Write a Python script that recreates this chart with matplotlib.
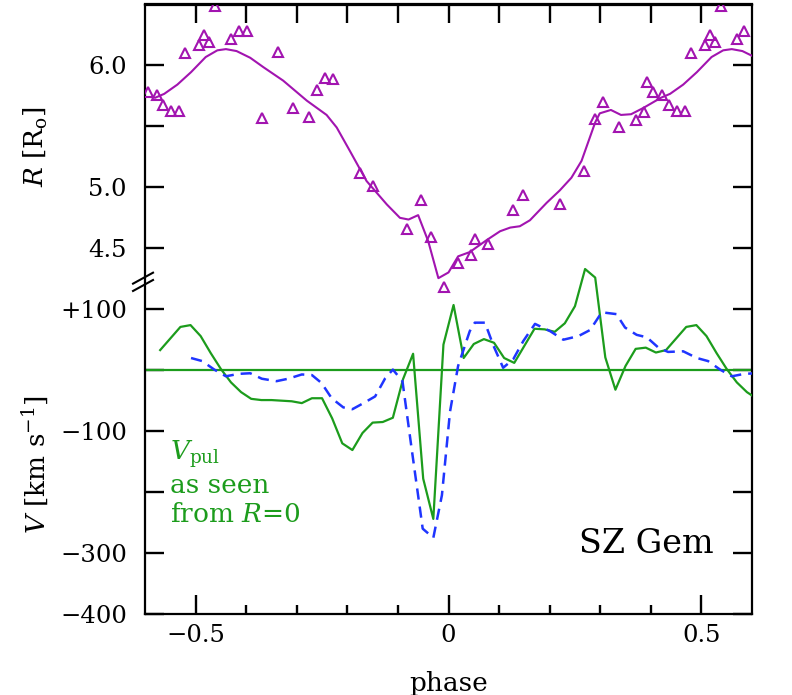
import matplotlib
matplotlib.use("Agg")
import matplotlib.pyplot as plt
import numpy as np

plt.rcParams.update({
    "font.family": "DejaVu Serif", "mathtext.fontset": "dejavuserif",
    "axes.linewidth": 1.6,
})
PURPLE, GREEN, BLUE = "#a214b0", "#1c9c1c", "#1f35ff"

# ---------------- data (one pulsation cycle, repeated at phase +-1) ----------------
# observed radius (triangles), R in solar radii
r_obs_ph = [-0.493, -0.483, -0.473, -0.461, -0.430, -0.415, -0.399, -0.368, -0.338,
            -0.307, -0.276, -0.260, -0.244, -0.228, -0.175, -0.149, -0.083, -0.054,
            -0.035, -0.008, 0.019, 0.044, 0.053, 0.079, 0.127, 0.148, 0.221, 0.267,
            0.290, 0.305, 0.338, 0.371, 0.387, 0.392, 0.405, 0.423, 0.436, 0.452,
            0.467, 0.479]
r_obs = [6.17, 6.25, 6.19, 6.49, 6.22, 6.286, 6.286, 5.569, 6.11,
         5.651, 5.58, 5.80, 5.90, 5.89, 5.12, 5.01, 4.66, 4.90,
         4.596, 4.186, 4.376, 4.445, 4.576, 4.538, 4.815, 4.934, 4.862, 5.134,
         5.557, 5.70, 5.497, 5.552, 5.62, 5.866, 5.786, 5.758, 5.673, 5.629,
         5.623, 6.105]

# model radius curve
r_fit_ph = [-0.419, -0.392, -0.366, -0.327, -0.280, -0.241, -0.221, -0.195, -0.162,
            -0.122, -0.096, -0.079, -0.060, -0.040, -0.020, 0.000, 0.019, 0.042,
            0.075, 0.102, 0.122, 0.141, 0.161, 0.194, 0.220, 0.243, 0.263, 0.290,
            0.299, 0.321, 0.341, 0.361, 0.385, 0.420, 0.438, 0.464, 0.491, 0.520,
            0.543, 0.560]
r_fit = [6.118, 6.063, 5.986, 5.876, 5.711, 5.594, 5.491, 5.299, 5.052,
         4.86, 4.75, 4.736, 4.772, 4.557, 4.255, 4.302, 4.434, 4.469,
         4.566, 4.64, 4.670, 4.681, 4.73, 4.873, 4.975, 5.079, 5.217, 5.533,
         5.607, 5.635, 5.594, 5.60, 5.651, 5.735, 5.767, 5.843, 5.945, 6.069,
         6.124, 6.134]

# pulsation velocity as seen from R=0 (km/s)
vpul_ph = [-0.41, -0.39, -0.37, -0.35, -0.33, -0.31, -0.29, -0.27, -0.25, -0.23,
           -0.21, -0.19, -0.17, -0.15, -0.13, -0.11, -0.09, -0.07, -0.05, -0.03,
           -0.01, 0.01, 0.03, 0.05, 0.07, 0.09, 0.11, 0.13, 0.15, 0.17,
           0.19, 0.21, 0.23, 0.25, 0.27, 0.29, 0.31, 0.33, 0.35, 0.37,
           0.39, 0.41, 0.43, 0.45, 0.47, 0.49, 0.51, 0.53, 0.55, 0.57]
vpul = [-36, -47, -49, -49, -50, -51, -54, -46, -46, -79,
        -120, -131, -103, -86, -85, -78, -15, 27, -178, -244,
        42, 107, 20, 43, 51, 45, 20, 12, 40, 68,
        67, 63, 77, 105, 166, 152, 21, -32, 7, 35,
        37, 29, 33, 52, 71, 74, 56, 28, 2, -20]

# dashed velocity curve (km/s)
vdash_ph = [-0.415, -0.392, -0.369, -0.340, -0.317, -0.290, -0.270, -0.251, -0.231,
            -0.208, -0.190, -0.168, -0.145, -0.125, -0.110, -0.091, -0.073, -0.051,
            -0.030, -0.013, 0.003, 0.019, 0.042, 0.052, 0.072, 0.089, 0.108, 0.128,
            0.148, 0.171, 0.201, 0.227, 0.257, 0.280, 0.303, 0.332, 0.349, 0.372,
            0.392, 0.415, 0.434, 0.464, 0.491, 0.513, 0.537, 0.560]
vdash = [-6, -5, -14, -18, -14, -7, -8, -21, -46,
         -61, -64, -54, -43, -13, 1, -18, -128, -260,
         -275, -205, -68, 7, 64, 78, 78, 40, 4, 18,
         48, 76, 64, 50, 56, 66, 95, 92, 70, 58,
         54, 37, 30, 31, 20, 15, 1, -10]

r_ticks = [6.0, 5.5, 5.0, 4.5]
r_labels = ["6.0", "", "5.0", "4.5"]
v_ticks = [100, 0, -100, -200, -300, -400]
v_labels = ["+100", "", "\u2212100", "", "\u2212300", "\u2212400"]


def v2y(v):
    # velocity panel shares the axis: +100 km/s sits 0.5 R below R=4.5, 100 km/s = 0.5 R
    return 4.0 + (np.asarray(v, dtype=float) - 100.0) / 200.0


def wrap(ph, val, lo, hi):
    p = np.concatenate([np.asarray(ph) + k for k in (-1, 0, 1)])
    v = np.tile(np.asarray(val, dtype=float), 3)
    o = np.argsort(p)
    p, v = p[o], v[o]
    m = (p >= lo) & (p <= hi)
    return p[m], v[m]


fig = plt.figure(figsize=(7.92, 6.95), dpi=100)
ax = fig.add_axes([145 / 792, 81 / 695, 607 / 792, 609.5 / 695])

ax.axhline(v2y(0), color=GREEN, lw=1.6, zorder=2)

x, y = wrap(vpul_ph, vpul, -0.575, 0.62)
ax.plot(x, v2y(y), color=GREEN, lw=1.6, zorder=3)
x, y = wrap(vdash_ph, vdash, -0.515, 0.62)
ax.plot(x, v2y(y), color=BLUE, lw=1.8, ls=(0, (4.5, 2.8)), zorder=3)

x, y = wrap(r_fit_ph, r_fit, -0.585, 0.62)
ax.plot(x, y, color=PURPLE, lw=1.5, zorder=3)
x, y = wrap(r_obs_ph, r_obs, -0.6, 0.6)
ax.plot(x, y, ls="none", marker="^", ms=7.5, mfc="none", mec=PURPLE, mew=1.5, zorder=4)

ax.set_xlim(-0.6, 0.6)
ax.set_ylim(1.5, 6.5)

# y ticks: radius scale on top, velocity scale below
yt = list(r_ticks) + list(v2y(v_ticks))
ax.set_yticks(yt)
ax.set_yticklabels(r_labels + v_labels)
ax.tick_params(axis="y", which="major", direction="in", length=13.7, width=1.7,
               right=True, labelright=False, pad=13, labelsize=17.5)

ax.set_xticks([-0.5, 0, 0.5])
ax.set_xticklabels(["\u22120.5", "0", "0.5"])
ax.set_xticks(np.round(np.arange(-0.5, 0.51, 0.1), 2), minor=True)
ax.tick_params(axis="x", which="major", direction="in", length=13.7, width=1.7,
               pad=7, labelsize=17.5)
ax.tick_params(axis="x", which="minor", direction="in", length=6.5, width=1.7)

top = ax.secondary_xaxis("top")
top.set_xticks(np.round(np.arange(-0.5, 0.51, 0.1), 2))
top.set_xticklabels([])
top.tick_params(direction="in", length=13.7, width=1.7)
top.spines["top"].set_linewidth(1.6)

# axis break mark on the left spine
for dy in (0.0, 0.012):
    ax.plot([-0.0197, 0.0132], [0.542 - dy, 0.560 - dy], transform=ax.transAxes,
            color="black", lw=1.5, clip_on=False)

fig.text(449 / 792, 1 - 683 / 695, "phase", ha="center", va="center", fontsize=19)
fig.text(36 / 792, 1 - 147 / 695, r"$R\ [\mathrm{R_o}]$", rotation=90,
         ha="center", va="center", fontsize=19)
fig.text(36 / 792, 1 - 465 / 695, r"$V$ [km s$^{-1}$]", rotation=90,
         ha="center", va="center", fontsize=19)

ax.text(0.041, 0.2527, r"$V_{\mathrm{pul}}$", transform=ax.transAxes, color=GREEN,
        ha="left", va="baseline", fontsize=19)
ax.text(0.041, 0.1985, "as seen", transform=ax.transAxes, color=GREEN,
        ha="left", va="baseline", fontsize=19)
ax.text(0.041, 0.151, r"from $R$=0", transform=ax.transAxes, color=GREEN,
        ha="left", va="baseline", fontsize=19)
ax.text(0.936, 0.10, "SZ Gem", transform=ax.transAxes, ha="right", va="baseline",
        fontsize=24)

fig.savefig("out.png", dpi=100)
